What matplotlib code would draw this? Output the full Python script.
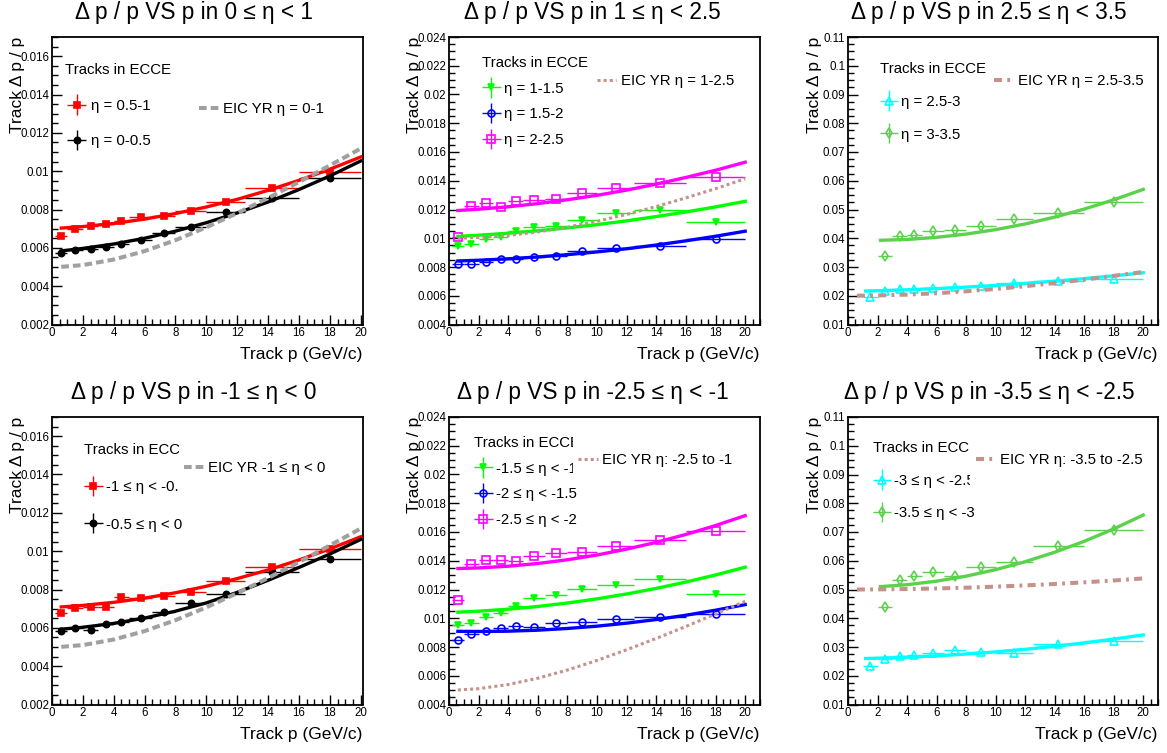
import numpy as np
import matplotlib.pyplot as plt
from matplotlib.ticker import MultipleLocator, FuncFormatter
from matplotlib.legend_handler import HandlerErrorbar
from matplotlib.container import ErrorbarContainer
from matplotlib.lines import Line2D
from matplotlib.patches import Rectangle

plt.rcParams['font.family'] = ['Liberation Sans', 'DejaVu Sans']

# momentum bins (GeV/c)
p_lo = [0.2, 1, 2, 3, 4, 5, 6.5, 8, 10, 12.5, 16]
p_hi = [1, 2, 3, 4, 5, 6.5, 8, 10, 12.5, 16, 20]
p_mid = [0.6, 1.5, 2.5, 3.5, 4.5, 5.75, 7.25, 9, 11.25, 14.25, 18]

# sampling points of the fit / YR curves
curve_p = [0.6, 2, 4, 6, 8, 10, 12, 14, 16, 18, 20]
curve_p_fwd1 = [1.2, 2, 4, 6, 8, 10, 12, 14, 16, 18, 20]
curve_p_fwd2 = [2.2, 4, 6, 8, 10, 12, 14, 16, 18, 20]

# 0 <= eta < 1
res_eta_05_1 = [0.00661, 0.00698, 0.00712, 0.00724, 0.00738, 0.00761, 0.00768, 0.00794, 0.00837, 0.00912, 0.00998]
res_eta_0_05 = [0.00574, 0.00587, 0.00595, 0.00604, 0.00618, 0.00642, 0.00675, 0.00707, 0.00785, 0.00862, 0.00964]
fit_eta_05_1 = [0.00703, 0.00711, 0.00727, 0.00750, 0.00779, 0.00813, 0.00853, 0.00900, 0.00952, 0.01010, 0.01074]
fit_eta_0_05 = [0.00584, 0.00597, 0.00620, 0.00650, 0.00687, 0.00731, 0.00782, 0.00839, 0.00904, 0.00975, 0.01053]
yr_eta_0_1 = [0.00501, 0.00510, 0.00539, 0.00583, 0.00640, 0.00707, 0.00781, 0.00860, 0.00943, 0.01030, 0.01118]

# 1 <= eta < 2.5
res_eta_1_15 = [0.00945, 0.00959, 0.00996, 0.01010, 0.01049, 0.01077, 0.01088, 0.01125, 0.01174, 0.01200, 0.01114]
res_eta_15_2 = [0.00822, 0.00822, 0.00838, 0.00857, 0.00854, 0.00870, 0.00880, 0.00912, 0.00931, 0.00949, 0.00993]
res_eta_2_25 = [0.01007, 0.01223, 0.01248, 0.01216, 0.01262, 0.01267, 0.01274, 0.01315, 0.01348, 0.01383, 0.01424]
fit_eta_1_15 = [0.01013, 0.01021, 0.01035, 0.01052, 0.01072, 0.01095, 0.01121, 0.01151, 0.01183, 0.01218, 0.01257]
fit_eta_15_2 = [0.00842, 0.00847, 0.00857, 0.00870, 0.00886, 0.00905, 0.00927, 0.00953, 0.00982, 0.01014, 0.01049]
fit_eta_2_25 = [0.01193, 0.01202, 0.01219, 0.01241, 0.01268, 0.01299, 0.01335, 0.01377, 0.01423, 0.01473, 0.01529]
yr_eta_1_25 = [0.01000, 0.01005, 0.01020, 0.01044, 0.01077, 0.01118, 0.01166, 0.01221, 0.01281, 0.01345, 0.01414]

# 2.5 <= eta < 3.5
res_eta_25_3 = [0.01953, 0.02163, 0.02221, 0.02233, 0.02279, 0.02291, 0.02337, 0.02442, 0.02512, 0.02580]
res_eta_3_35 = [0.03372, 0.04070, 0.04116, 0.04267, 0.04291, 0.04442, 0.04674, 0.04895, 0.05267]
fit_eta_25_3 = [0.02163, 0.02174, 0.02206, 0.02248, 0.02300, 0.02360, 0.02430, 0.02508, 0.02596, 0.02694, 0.02800]
fit_eta_3_35 = [0.03930, 0.03959, 0.04031, 0.04145, 0.04300, 0.04497, 0.04735, 0.05015, 0.05337, 0.05700]
yr_eta_25_35 = [0.02001, 0.02010, 0.02040, 0.02088, 0.02154, 0.02236, 0.02332, 0.02441, 0.02561, 0.02691, 0.02828]

# -1 <= eta < 0
res_eta_m1_m05 = [0.00675, 0.00701, 0.00710, 0.00710, 0.00762, 0.00755, 0.00765, 0.00786, 0.00843, 0.00920, 0.01009]
res_eta_m05_0 = [0.00583, 0.00597, 0.00591, 0.00621, 0.00631, 0.00649, 0.00683, 0.00730, 0.00779, 0.00892, 0.00957]
fit_eta_m1_m05 = [0.00709, 0.00717, 0.00733, 0.00755, 0.00783, 0.00817, 0.00857, 0.00902, 0.00954, 0.01012, 0.01075]
fit_eta_m05_0 = [0.00593, 0.00603, 0.00623, 0.00651, 0.00687, 0.00730, 0.00785, 0.00848, 0.00915, 0.00985, 0.01061]
yr_eta_m1_0 = [0.00501, 0.00510, 0.00539, 0.00583, 0.00640, 0.00707, 0.00781, 0.00860, 0.00943, 0.01030, 0.01118]

# -2.5 <= eta < -1
res_eta_m15_m1 = [0.00956, 0.00968, 0.01010, 0.01035, 0.01084, 0.01142, 0.01160, 0.01204, 0.01230, 0.01276, 0.01169]
res_eta_m2_m15 = [0.00852, 0.00891, 0.00910, 0.00935, 0.00949, 0.00940, 0.00968, 0.00972, 0.00996, 0.01009, 0.01033]
res_eta_m25_m2 = [0.01125, 0.01376, 0.01403, 0.01408, 0.01399, 0.01431, 0.01454, 0.01464, 0.01505, 0.01547, 0.01610]
fit_eta_m15_m1 = [0.01042, 0.01049, 0.01063, 0.01082, 0.01106, 0.01135, 0.01169, 0.01208, 0.01252, 0.01301, 0.01355]
fit_eta_m2_m15 = [0.00909, 0.00908, 0.00910, 0.00917, 0.00929, 0.00945, 0.00966, 0.00991, 0.01021, 0.01056, 0.01095]
fit_eta_m25_m2 = [0.01346, 0.01350, 0.01362, 0.01381, 0.01407, 0.01440, 0.01481, 0.01528, 0.01583, 0.01645, 0.01714]
yr_eta_m25_m1 = [0.00501, 0.00510, 0.00539, 0.00583, 0.00640, 0.00707, 0.00781, 0.00860, 0.00943, 0.01030, 0.01118]

# -3.5 <= eta < -2.5
res_eta_m3_m25 = [0.02333, 0.02587, 0.02703, 0.02738, 0.02808, 0.02912, 0.02842, 0.02796, 0.03097, 0.03225]
res_eta_m35_m3 = [0.04395, 0.05345, 0.05461, 0.05612, 0.05461, 0.05774, 0.05971, 0.06504, 0.07072]
fit_eta_m3_m25 = [0.02600, 0.02610, 0.02644, 0.02692, 0.02754, 0.02830, 0.02920, 0.03024, 0.03142, 0.03274, 0.03420]
fit_eta_m35_m3 = [0.05100, 0.05167, 0.05290, 0.05464, 0.05690, 0.05967, 0.06296, 0.06675, 0.07107, 0.07590]
yr_eta_m35_m25 = [0.05000, 0.05004, 0.05016, 0.05036, 0.05064, 0.05099, 0.05142, 0.05192, 0.05250, 0.05314, 0.05385]

W, H = 1167, 753
fig = plt.figure(figsize=(W / 100, H / 100), dpi=100)

GREEN2 = '#5bd24b'
BROWN = '#c4928a'
GREY = '#a0a0a0'

yr_style = {
    'grey': dict(color=GREY, lw=2.9, dashes=(1.9, 1.0)),
    'dot': dict(color=BROWN, lw=2.2, dashes=(1.0, 1.0)),
    'dashdot': dict(color=BROWN, lw=2.9, dashes=(2.0, 1.3, 0.7, 1.3)),
}


def fpos(x, y):
    return x / W, 1 - y / H


def make_axes(left, top, width, xmax, ylo, yhi, ystep):
    h = 287.5
    ax = fig.add_axes([left / W, 1 - (top + h) / H, width / W, h / H])
    ax.set_xlim(0, xmax)
    ax.set_ylim(ylo, yhi)
    ax.xaxis.set_major_locator(MultipleLocator(2))
    ax.xaxis.set_minor_locator(MultipleLocator(0.5))
    ax.yaxis.set_major_locator(MultipleLocator(ystep))
    ax.yaxis.set_minor_locator(MultipleLocator(ystep / 4))
    ax.yaxis.set_major_formatter(FuncFormatter(lambda v, _: f'{v:g}'))
    ax.tick_params(which='both', direction='in', top=False, right=False,
                   labelsize=8.3, pad=2, width=1)
    ax.tick_params(which='major', length=7)
    ax.tick_params(which='minor', length=4)
    for s in ax.spines.values():
        s.set_linewidth(1.3)
    return ax


def draw_points(ax, res, color, marker, ms, filled, label):
    k = len(p_mid) - len(res)
    p = np.array(p_mid[k:])
    xerr = [p - np.array(p_lo[k:]), np.array(p_hi[k:]) - p]
    return ax.errorbar(p, res, xerr=xerr, yerr=np.zeros(len(res)), fmt=marker,
                       color=color, ms=ms, mfc=color if filled else 'none',
                       mec=color, mew=1.2, elinewidth=1, capsize=0,
                       label=label, zorder=3)


def draw_panel(left, top, width, xmax, ylim, ystep, title, title_x,
               series, yr, leg_xy, leg_space, hlen, yr_xy, yr_box):
    ax = make_axes(left, top, width, xmax, ylim[0], ylim[1], ystep)
    handles = []
    for res, fp, fit, color, marker, ms, filled, label in series:
        handles.append(draw_points(ax, res, color, marker, ms, filled, label))
        ax.plot(fp, fit, color=color, lw=2.4, zorder=4)
    yr_vals, yr_kind, yr_label = yr
    ax.plot(curve_p, yr_vals, zorder=4.5, **yr_style[yr_kind])

    # "Tracks in ECCE" legend
    leg = ax.legend(handles=handles, title='Tracks in ECCE', loc='upper left',
                    bbox_to_anchor=fpos(*leg_xy), bbox_transform=fig.transFigure,
                    frameon=False, fontsize=10.8, title_fontsize=10.8,
                    alignment='left', labelspacing=leg_space, handlelength=hlen,
                    handletextpad=0.2, borderpad=0, borderaxespad=0,
                    handler_map={ErrorbarContainer: HandlerErrorbar(xerr_size=0.63, yerr_size=0.67)})
    leg.set_zorder(5)
    ax.add_artist(leg)

    # YR legend sits in its own opaque white box, on top of the first one
    bx0, by0, bx1, by1 = yr_box
    box = Rectangle(fpos(bx0, by1), (bx1 - bx0) / W, (by1 - by0) / H,
                    transform=fig.transFigure, facecolor='white',
                    edgecolor='none', clip_on=False, zorder=6)
    ax.add_patch(box)
    yr_handle = Line2D([], [], **yr_style[yr_kind])
    leg2 = ax.legend(handles=[yr_handle], labels=[yr_label], loc='upper left',
                     bbox_to_anchor=fpos(*yr_xy), bbox_transform=fig.transFigure,
                     frameon=False, fontsize=10.8, handlelength=1.3,
                     handletextpad=0.3, borderpad=0, borderaxespad=0)
    leg2.set_zorder(7)

    fig.text(*fpos(title_x, top - 24), title, ha='center', va='center', fontsize=16.3)
    fig.text(*fpos(left - 34, top), 'Track Δ p / p', rotation=90,
             ha='center', va='top', fontsize=12.5)
    fig.text(*fpos(left + width - 1, top + 318), 'Track p (GeV/c)',
             ha='right', va='center', fontsize=12.5)
    return ax


TOP1, TOP2 = 37, 417
L1, L2, L3 = 52, 449, 848

draw_panel(L1, TOP1, 311, 20.15, (0.002, 0.017), 0.002,
           'Δ p / p VS p in 0 ≤ η < 1', 194,
           [(res_eta_05_1, curve_p, fit_eta_05_1, 'red', 's', 5, True, 'η = 0.5-1'),
            (res_eta_0_05, curve_p, fit_eta_0_05, 'black', 'o', 4.5, True, 'η = 0-0.5')],
           (yr_eta_0_1, 'grey', 'EIC YR η = 0-1'),
           (65, 63), 1.45, 1.55, (199, 102), (194, 55, 335, 122))

draw_panel(L2, TOP1, 311, 21, (0.004, 0.024), 0.002,
           'Δ p / p VS p in 1 ≤ η < 2.5', 592,
           [(res_eta_1_15, curve_p, fit_eta_1_15, '#00ff00', 'v', 4.2, True, 'η = 1-1.5'),
            (res_eta_15_2, curve_p, fit_eta_15_2, 'blue', 'o', 5, False, 'η = 1.5-2'),
            (res_eta_2_25, curve_p, fit_eta_2_25, 'magenta', 's', 5.3, False, 'η = 2-2.5')],
           (yr_eta_1_25, 'dot', 'EIC YR η = 1-2.5'),
           (482, 56), 0.78, 1.25, (597, 74), (592, 50, 735, 98))

draw_panel(L3, TOP1, 310, 21, (0.01, 0.11), 0.01,
           'Δ p / p VS p in 2.5 ≤ η < 3.5', 989,
           [(res_eta_25_3, curve_p_fwd1, fit_eta_25_3, 'cyan', '^', 6, False, 'η = 2.5-3'),
            (res_eta_3_35, curve_p_fwd2, fit_eta_3_35, GREEN2, 'd', 5.3, False, 'η = 3-3.5')],
           (yr_eta_25_35, 'dashdot', 'EIC YR η = 2.5-3.5'),
           (880, 62), 1.25, 1.2, (994, 74), (989, 52, 1152, 112))

draw_panel(L1, TOP2, 311, 20.15, (0.002, 0.017), 0.002,
           'Δ p / p VS p in -1 ≤ η < 0', 194,
           [(res_eta_m1_m05, curve_p, fit_eta_m1_m05, 'red', 's', 5, True, '-1 ≤ η < -0.5'),
            (res_eta_m05_0, curve_p, fit_eta_m05_0, 'black', 'o', 4.5, True, '-0.5 ≤ η < 0')],
           (yr_eta_m1_0, 'grey', 'EIC YR -1 ≤ η < 0'),
           (84, 443), 1.55, 1.25, (184, 461), (179, 432, 335, 502))

draw_panel(L2, TOP2, 311, 21, (0.004, 0.024), 0.002,
           'Δ p / p VS p in -2.5 ≤ η < -1', 593,
           [(res_eta_m15_m1, curve_p, fit_eta_m15_m1, '#00ff00', 'v', 4.2, True, '-1.5 ≤ η < -1'),
            (res_eta_m2_m15, curve_p, fit_eta_m2_m15, 'blue', 'o', 5, False, '-2 ≤ η < -1.5'),
            (res_eta_m25_m2, curve_p, fit_eta_m25_m2, 'magenta', 's', 5.3, False, '-2.5 ≤ η < -2')],
           (yr_eta_m25_m1, 'dot', 'EIC YR η: -2.5 to -1'),
           (474, 436), 0.78, 1.25, (578, 453), (573, 428, 748, 480))

draw_panel(L3, TOP2, 310, 21, (0.01, 0.11), 0.01,
           'Δ p / p VS p in -3.5 ≤ η < -2.5', 989,
           [(res_eta_m3_m25, curve_p_fwd1, fit_eta_m3_m25, 'cyan', '^', 6, False, '-3 ≤ η < -2.5'),
            (res_eta_m35_m3, curve_p_fwd2, fit_eta_m35_m3, GREEN2, 'd', 5.3, False, '-3.5 ≤ η < -3')],
           (yr_eta_m35_m25, 'dashdot', 'EIC YR η: -3.5 to -2.5'),
           (873, 441), 1.25, 1.2, (976, 453), (970, 432, 1152, 497))

fig.savefig('out.png', dpi=100)
